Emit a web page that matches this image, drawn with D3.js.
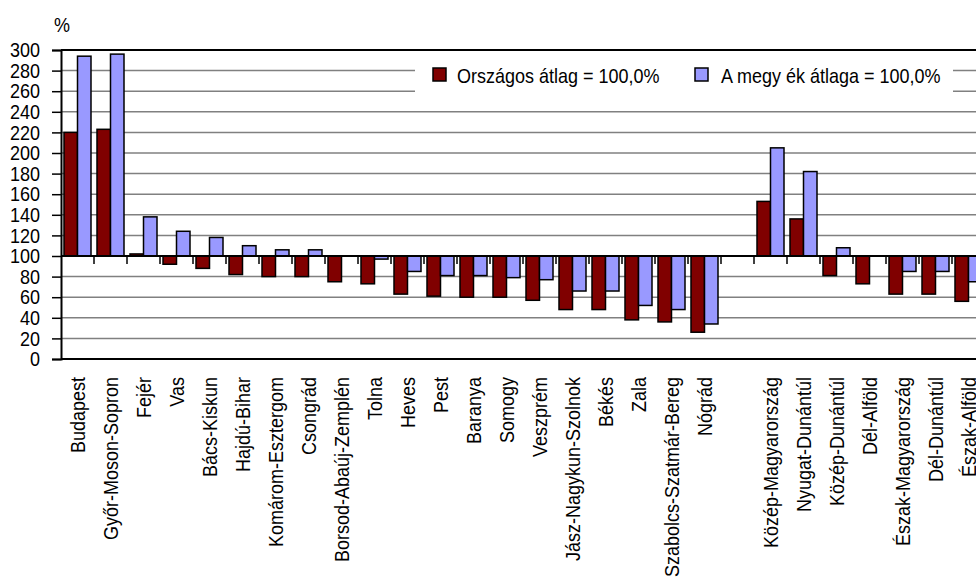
<!DOCTYPE html>
<html>
<head>
<meta charset="utf-8">
<script src="https://cdn.jsdelivr.net/npm/d3@7"></script>
<style>
  html, body { margin: 0; padding: 0; background: #fff; }
  svg { display: block; font-family: "Liberation Sans", Arial, sans-serif; }
</style>
</head>
<body>
<svg id="chart" width="976" height="580"></svg>
<script>
// ---- data ----
const categories = [
  "Budapest", "Győr-Moson-Sopron", "Fejér", "Vas", "Bács-Kiskun", "Hajdú-Bihar",
  "Komárom-Esztergom", "Csongrád", "Borsod-Abaúj-Zemplén", "Tolna", "Heves", "Pest",
  "Baranya", "Somogy", "Veszprém", "Jász-Nagykun-Szolnok", "Békés", "Zala",
  "Szabolcs-Szatmár-Bereg", "Nógrád", "",
  "Közép-Magyarország", "Nyugat-Dunántúl", "Közép-Dunántúl", "Dél-Alföld",
  "Észak-Magyarország", "Dél-Dunántúl", "Észak-Alföld"
];
const orszagos = [
  220, 223, 102, 92, 88, 82, 80, 80, 75, 73, 63, 61,
  60, 60, 57, 48, 48, 38, 36, 26, null,
  153, 136, 81, 73, 63, 63, 56
];
const megyek = [
  294, 296, 138, 124, 118, 110, 106, 106, 100, 97, 85, 81,
  81, 79, 77, 66, 66, 52, 48, 34, null,
  205, 182, 108, 100, 85, 85, 75
];
const seriesNames = ["Országos átlag = 100,0%", "A megy ék átlaga = 100,0%"];
const seriesColors = ["#800000", "#9999FF"];
const yTicks = [0, 20, 40, 60, 80, 100, 120, 140, 160, 180, 200, 220, 240, 260, 280, 300];
const baseValue = 100;
const unitLabel = "%";

// ---- layout ----
const svg = d3.select("#chart");
const mLeft = 61, mTop = 50, mBottom = 359, slot = 33;
const fs = 20, sx = 0.9;
const keys = categories.map((c, i) => i);
const x = d3.scaleBand().domain(keys).range([mLeft, mLeft + slot * keys.length]).paddingInner(0).paddingOuter(0);
const y = d3.scaleLinear().domain([0, 300]).range([mBottom, mTop]);
const xs = d3.scaleBand().domain([0, 1]).range([3, slot - 3]).padding(0);
const mRight = mLeft + slot * keys.length;

// gridlines
svg.append("g").selectAll("line")
  .data(yTicks.filter(t => t > 0 && t < 300))
  .join("line")
  .attr("x1", mLeft).attr("x2", mRight)
  .attr("y1", d => y(d)).attr("y2", d => y(d))
  .attr("stroke", "#808080").attr("stroke-width", 1.5);

// plot top and bottom borders
svg.append("line").attr("x1", mLeft).attr("x2", mRight).attr("y1", y(300)).attr("y2", y(300))
  .attr("stroke", "#000").attr("stroke-width", 2);
svg.append("line").attr("x1", mLeft).attr("x2", mRight).attr("y1", y(0)).attr("y2", y(0))
  .attr("stroke", "#000").attr("stroke-width", 2);

// y axis (line + ticks via d3 axis, labels drawn condensed)
const yAxis = d3.axisLeft(y).tickValues(yTicks).tickSize(9).tickFormat("");
const ga = svg.append("g").attr("transform", `translate(${mLeft},0)`).call(yAxis);
ga.select(".domain").attr("stroke", "#000").attr("stroke-width", 2);
ga.selectAll(".tick line").attr("stroke", "#000").attr("stroke-width", 1.5);
svg.append("g").selectAll("text")
  .data(yTicks)
  .join("text")
  .attr("transform", d => `translate(40,${y(d)}) scale(${sx},1)`)
  .attr("text-anchor", "end")
  .attr("dy", "0.36em")
  .attr("font-size", fs + "px")
  .text(d => d);

// unit label
svg.append("text").attr("transform", `translate(54,32) scale(${sx},1)`)
  .attr("font-size", fs + "px").text(unitLabel);

// legend background (covers gridlines)
svg.append("rect").attr("x", 415).attr("y", 58).attr("width", 538).attr("height", 42).attr("fill", "#fff");

// bars
const seriesData = [orszagos, megyek];
seriesData.forEach((vals, si) => {
  svg.append("g").selectAll("rect")
    .data(vals.map((v, i) => ({ i, v })).filter(d => d.v !== null))
    .join("rect")
    .attr("x", d => x(d.i) + xs(si))
    .attr("width", xs.bandwidth())
    .attr("y", d => y(Math.max(d.v, baseValue)))
    .attr("height", d => Math.abs(y(d.v) - y(baseValue)))
    .attr("fill", seriesColors[si])
    .attr("stroke", "#000").attr("stroke-width", 1.5);
});

// category axis at 100
svg.append("line").attr("x1", mLeft).attr("x2", mRight).attr("y1", y(baseValue)).attr("y2", y(baseValue))
  .attr("stroke", "#000").attr("stroke-width", 2);
svg.append("g").selectAll("line")
  .data(keys)
  .join("line")
  .attr("x1", d => x(d) + x.bandwidth()).attr("x2", d => x(d) + x.bandwidth())
  .attr("y1", y(baseValue)).attr("y2", y(baseValue) + 8)
  .attr("stroke", "#000").attr("stroke-width", 1.5);

// category labels
svg.append("g").selectAll("text")
  .data(keys.filter(k => categories[k] !== ""))
  .join("text")
  .attr("transform", d => `translate(${x(d) + x.bandwidth() / 2},377) rotate(-90) scale(${sx},1)`)
  .attr("text-anchor", "end")
  .attr("dy", "0.35em")
  .attr("font-size", fs + "px")
  .text(d => categories[d]);

// legend
const legendItems = [
  { box: 433, text: 457 },
  { box: 695, text: 721 }
];
legendItems.forEach((l, i) => {
  svg.append("rect").attr("x", l.box).attr("y", 68).attr("width", 13).attr("height", 13)
    .attr("fill", seriesColors[i]).attr("stroke", "#000").attr("stroke-width", 1.5);
  svg.append("text").attr("transform", `translate(${l.text},83) scale(${sx},1)`)
    .attr("font-size", fs + "px").text(seriesNames[i]);
});
</script>
</body>
</html>
